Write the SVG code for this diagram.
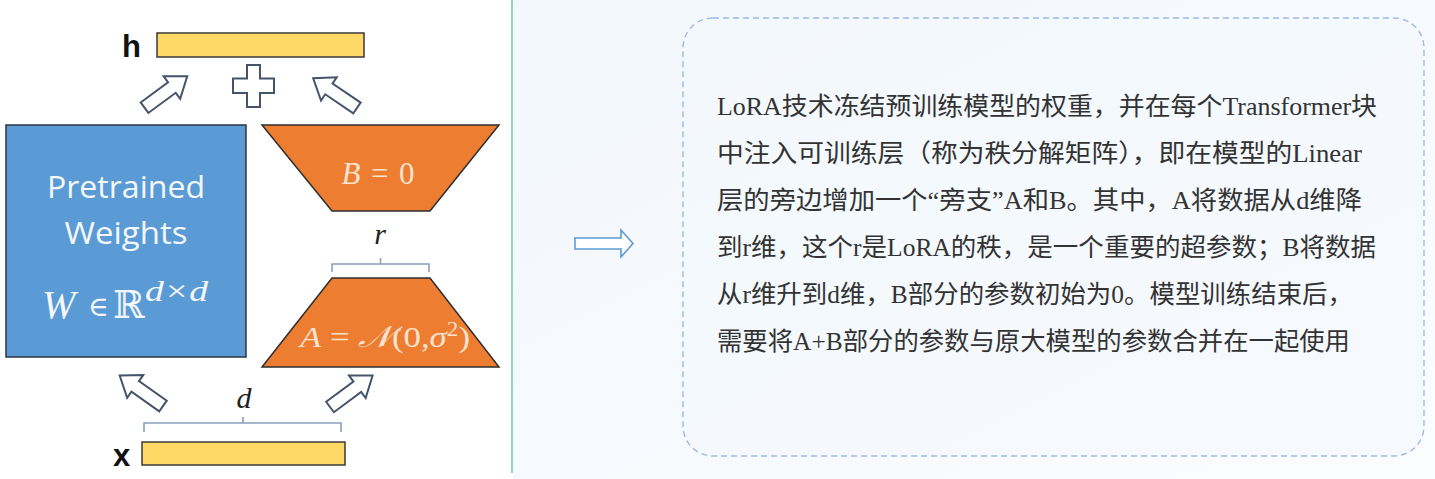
<svg xmlns="http://www.w3.org/2000/svg" width="1435" height="479" viewBox="0 0 1435 479">
  <defs>
    <linearGradient id="bgR" x1="0" y1="0" x2="1" y2="1">
      <stop offset="0" stop-color="#f2f7fc"/>
      <stop offset="1" stop-color="#fbfcfe"/>
    </linearGradient>
    <path id="blk" d="M0,-6.5 L34,-6.5 L34,-14 L53,0 L34,14 L34,6.5 L0,6.5 Z"/>
    <style>
      .bar{fill:#ffd966;stroke:#3a3a3a;stroke-width:1.5}
      .trap{fill:#ed7d31;stroke:#2e2e2e;stroke-width:1.5}
      .hollow{fill:#ffffff;stroke:#44546a;stroke-width:2;stroke-linejoin:miter}
      .brace{fill:none;stroke:#8aa0bb;stroke-width:1.6}
      .lbl{font-family:"Liberation Sans",Arial,sans-serif;font-weight:bold;font-size:31px;fill:#111}
      .math{font-family:"Liberation Serif","DejaVu Serif",serif;font-style:italic}
      .wtxt{font-family:"Open Sans",Lato,sans-serif;font-size:31px;fill:#f4f7fb;text-anchor:middle}
      .cn{font-family:"Liberation Serif","Noto Sans CJK SC",serif;font-size:25px;fill:#333}
    </style>
  </defs>

  <rect x="0" y="0" width="1435" height="479" fill="#ffffff"/>
  <rect x="513" y="0" width="922" height="479" fill="url(#bgR)"/>

  <!-- divider -->
  <line x1="512" y1="0" x2="512" y2="473" stroke="#6fd3aa" stroke-width="1.6"/>

  <!-- h output -->
  <g id="h-node">
    <rect class="bar" x="157" y="33" width="207" height="24"/>
    <text class="lbl" x="122" y="57">h</text>
  </g>

  <!-- pretrained weights -->
  <g id="pretrained">
    <rect x="6" y="125" width="240" height="232" fill="#5b9bd5" stroke="#2b3440" stroke-width="1.5"/>
    <text class="wtxt" x="126" y="198" textLength="158" lengthAdjust="spacingAndGlyphs">Pretrained</text>
    <text class="wtxt" x="126" y="244" textLength="123" lengthAdjust="spacingAndGlyphs">Weights</text>
    <g fill="#f4f7fb" font-family="Liberation Serif,DejaVu Serif,serif">
      <text x="42" y="318" font-size="40" font-style="italic">W</text>
      <text x="88" y="316" font-size="28">∈</text>
      <text x="113" y="318" font-size="38" font-family="DejaVu Serif,serif">ℝ</text>
      <text x="145" y="301" font-size="30" font-style="italic" textLength="63" lengthAdjust="spacingAndGlyphs">d×d</text>
    </g>
  </g>

  <!-- B -->
  <g id="B">
    <polygon class="trap" points="262,125 499,125 430,211 332,211"/>
    <text x="378" y="184" fill="#fbe3cf" font-family="Liberation Serif,DejaVu Serif,serif" font-size="31" text-anchor="middle" textLength="73" lengthAdjust="spacing"><tspan font-style="italic">B</tspan> = 0</text>
  </g>

  <!-- A -->
  <g id="A">
    <polygon class="trap" points="332,278 430,278 499,367 262,367"/>
    <text x="385" y="347" fill="#fbe3cf" font-family="Liberation Serif,DejaVu Serif,serif" font-size="30" text-anchor="middle" textLength="170" lengthAdjust="spacingAndGlyphs"><tspan font-style="italic">A</tspan> = <tspan font-style="italic">𝒩</tspan>(0,<tspan font-style="italic">σ</tspan><tspan dy="-11" font-size="20">2</tspan><tspan dy="11">)</tspan></text>
  </g>

  <!-- x input -->
  <g id="x-node">
    <rect class="bar" x="142" y="442" width="203" height="23"/>
    <text class="lbl" x="113" y="466">x</text>
  </g>

  <!-- braces and dim labels -->
  <g id="r-dim">
    <path class="brace" d="M332,272 V264 H429 V272 M380.5,264 V258"/>
    <text class="math" x="380" y="244" font-size="30" fill="#222" text-anchor="middle">r</text>
  </g>
  <g id="d-dim">
    <path class="brace" d="M144,432 V423 H341 V432 M243,423 V417"/>
    <text class="math" x="244" y="408" font-size="30" fill="#222" text-anchor="middle">d</text>
  </g>

  <!-- connectors -->
  <g id="connectors">
    <use href="#blk" class="hollow" transform="translate(144.5,107.7) rotate(-36.3)"/>
    <use href="#blk" class="hollow" transform="translate(357,108) rotate(-145.8)"/>
    <use href="#blk" class="hollow" transform="translate(163,406) rotate(-144.8)"/>
    <use href="#blk" class="hollow" transform="translate(330,407) rotate(-36.5)"/>
    <path class="hollow" d="M247,65 H260 V78.5 H274 V93 H260 V107 H247 V93 H233 V78.5 H247 Z"/>
    <path d="M575,238 H621 V230 L633,243.5 L621,257 V249 H575 Z" fill="#ffffff" stroke="#5b9bd5" stroke-width="1.6"/>
  </g>

  <!-- text box -->
  <g id="textbox">
    <rect x="683" y="18" width="741" height="438" rx="30" ry="30" fill="#f4f8fd" fill-opacity="0.6" stroke="#9db9e6" stroke-width="1.4" stroke-dasharray="6 4"/>
    <text class="cn" x="717" y="115" textLength="660" lengthAdjust="spacingAndGlyphs">LoRA技术冻结预训练模型的权重，并在每个Transformer块</text>
    <text class="cn" x="717" y="162" textLength="645" lengthAdjust="spacingAndGlyphs">中注入可训练层（称为秩分解矩阵），即在模型的Linear</text>
    <text class="cn" x="717" y="209" textLength="645" lengthAdjust="spacingAndGlyphs">层的旁边增加一个“旁支”A和B。其中，A将数据从d维降</text>
    <text class="cn" x="717" y="256" textLength="659" lengthAdjust="spacingAndGlyphs">到r维，这个r是LoRA的秩，是一个重要的超参数；B将数据</text>
    <text class="cn" x="717" y="303" textLength="636" lengthAdjust="spacingAndGlyphs">从r维升到d维，B部分的参数初始为0。模型训练结束后，</text>
    <text class="cn" x="717" y="350" textLength="633" lengthAdjust="spacingAndGlyphs">需要将A+B部分的参数与原大模型的参数合并在一起使用</text>
  </g>
</svg>
